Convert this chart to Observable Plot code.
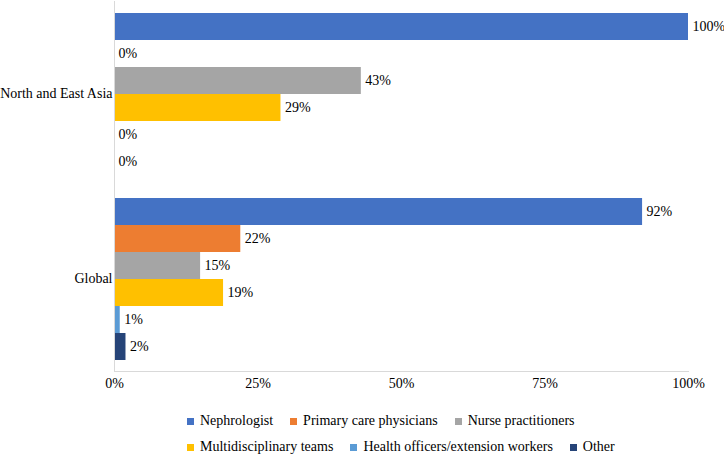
<!DOCTYPE html>
<html>
<head>
<meta charset="utf-8">
<script src="https://cdn.jsdelivr.net/npm/d3@7"></script>
<script src="https://cdn.jsdelivr.net/npm/@observablehq/plot@0.6"></script>
<style>
  html, body { margin: 0; padding: 0; background: white; }
  body { font-family: 'Liberation Serif'; font-size: 14px; color: #000; width: 724px; }
  #legend { padding-left: 187px; margin-top: 13px; }
  .row { display: flex; height: 26px; align-items: center; white-space: nowrap; }
  .item { display: flex; align-items: center; margin-right: 17px; }
  .sw { width: 7px; height: 7px; margin-right: 6px; display: inline-block; }
</style>
</head>
<body style="font-family:'Liberation Serif'">
<div id="chart"></div>
<div id="legend" style="font-family:'Liberation Serif'"></div>
<script>
const regions = ["North and East Asia", "Global"];
const roles = ["Nephrologist", "Primary care physicians", "Nurse practitioners", "Multidisciplinary teams", "Health officers/extension workers", "Other"];
const northEastAsiaValues = [1.00, 0.00, 0.43, 0.29, 0.00, 0.00];
const globalValues = [0.92, 0.22, 0.15, 0.19, 0.01, 0.02];
const roleColors = ["#4472C4", "#ED7D31", "#A5A5A5", "#FFC000", "#5B9BD5", "#264478"];
const xTicks = [0, 0.25, 0.5, 0.75, 1];
const legendRows = [[0, 1, 2], [3, 4, 5]];

const valuesByRegion = [northEastAsiaValues, globalValues];
const data = regions.flatMap((region, i) =>
  roles.map((role, j) => ({region, role, value: valuesByRegion[i][j]}))
);
const pct = d3.format(".0%");

const chart = Plot.plot({
  width: 724,
  height: 395,
  marginLeft: 114,
  marginRight: 36,
  marginTop: 0,
  marginBottom: 24,
  style: {fontFamily: "'Liberation Serif'", fontSize: "14px", color: "#000", background: "white"},
  x: {domain: [0, 1], ticks: xTicks, tickFormat: pct, label: null, tickSize: 0, tickPadding: 7},
  y: {domain: roles, paddingInner: 0, paddingOuter: 0.3636, axis: null},
  fy: {domain: regions, padding: 0, label: null, axis: "left", tickSize: 0, tickPadding: 2},
  color: {domain: roles, range: roleColors},
  marks: [
    Plot.barX(data, {x: "value", y: "role", fy: "region", fill: "role"}),
    Plot.text(data, {x: "value", y: "role", fy: "region", text: d => pct(d.value), textAnchor: "start", dx: 4, fill: "#000", fontSize: 14}),
    Plot.frame({anchor: "left", stroke: "#d9d9d9"}),
    Plot.frame({anchor: "bottom", stroke: "#d9d9d9", facetAnchor: "bottom"})
  ]
});
document.getElementById("chart").appendChild(chart);

const legend = document.getElementById("legend");
legendRows.forEach(row => {
  const r = document.createElement("div");
  r.className = "row";
  row.forEach(j => {
    const item = document.createElement("span");
    item.className = "item";
    const sw = document.createElement("span");
    sw.className = "sw";
    sw.style.background = roleColors[j];
    item.appendChild(sw);
    item.appendChild(document.createTextNode(roles[j]));
    r.appendChild(item);
  });
  legend.appendChild(r);
});
</script>
</body>
</html>
